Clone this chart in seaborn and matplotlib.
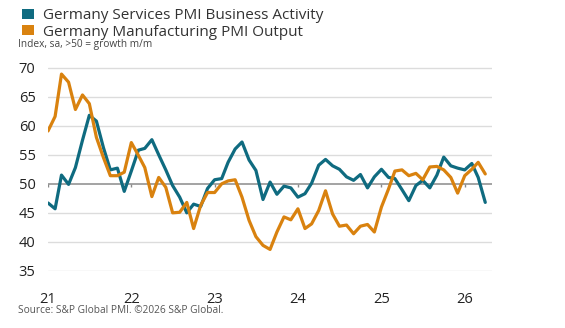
import numpy as np
import pandas as pd
import matplotlib
matplotlib.use("Agg")
import matplotlib.pyplot as plt
import seaborn as sns
from matplotlib.patches import Patch

# ---- data ----
start_month = "2021-01-01"
services = [46.7, 45.7, 51.5, 49.9, 52.8, 57.5, 61.8, 60.8, 56.2, 52.4, 52.7, 48.7,
            52.2, 55.8, 56.1, 57.6, 55.0, 52.4, 49.7, 47.7, 45.0, 46.5, 46.1, 49.2,
            50.7, 50.9, 53.7, 56.0, 57.2, 54.1, 52.3, 47.3, 50.3, 48.2, 49.6, 49.3,
            47.7, 48.3, 50.1, 53.2, 54.2, 53.1, 52.5, 51.2, 50.6, 51.6, 49.3, 51.2,
            52.5, 51.1, 50.9, 49.0, 47.1, 49.7, 50.6, 49.3, 51.5, 54.6, 53.1, 52.7,
            52.4, 53.5, 51.1, 46.8]
manufacturing = [59.1, 61.6, 68.9, 67.5, 62.8, 65.3, 63.8, 58.0, 54.5, 51.4, 51.4, 52.0,
                 57.1, 54.9, 52.8, 47.8, 51.1, 49.4, 45.0, 45.1, 46.8, 42.3, 46.3, 48.5,
                 48.5, 50.0, 50.5, 50.7, 47.7, 43.7, 40.9, 39.4, 38.7, 41.7, 44.3, 43.8,
                 45.7, 42.3, 43.1, 45.4, 48.8, 44.8, 42.7, 42.9, 41.4, 42.7, 43.0, 41.7,
                 46.0, 49.1, 52.2, 52.4, 51.4, 51.8, 50.7, 52.9, 53.0, 52.4, 51.1, 48.4,
                 51.4, 52.5, 53.7, 51.7]
series_names = ["Germany Services PMI Business Activity",
                "Germany Manufacturing PMI Output"]
colors = ["#0f6b80", "#d9820f"]
year_ticks = ["2021-01-01", "2022-01-01", "2023-01-01", "2024-01-01", "2025-01-01", "2026-01-01"]
year_labels = ["21", "22", "23", "24", "25", "26"]
y_ticks = [35, 40, 45, 50, 55, 60, 65, 70]

dates = pd.date_range(start_month, periods=len(services), freq="MS")
df = pd.concat([
    pd.DataFrame({"date": dates, "value": services, "series": series_names[0]}),
    pd.DataFrame({"date": dates, "value": manufacturing, "series": series_names[1]}),
])

sns.set_theme(style="white")
plt.rcParams["font.family"] = ["Open Sans", "DejaVu Sans"]

fig = plt.figure(figsize=(5.65, 3.28), dpi=100)
ax = fig.add_axes([0.085, 0.174, 0.786, 0.625])

# grid
for y in y_ticks:
    if y == 50:
        ax.axhline(y, color="#8a8a8a", lw=1.1, zorder=1)
    else:
        ax.axhline(y, color="#dcdcdc", lw=1.0, zorder=0)

sns.lineplot(data=df, x="date", y="value", hue="series", palette=colors,
             hue_order=series_names, linewidth=2.3, legend=False, ax=ax, zorder=3)

# small year ticks on the 50 line
xt = pd.to_datetime(year_ticks)
ax.vlines(xt, 49.45, 50, color="#8a8a8a", lw=1.0, zorder=1)

ax.set_xlim(pd.Timestamp("2021-01-01"), pd.Timestamp("2026-05-01"))
ax.set_ylim(35, 70.3)
ax.set_yticks(y_ticks)
ax.set_yticklabels([str(v) for v in y_ticks])
ax.set_xticks(xt)
ax.set_xticklabels(year_labels)
ax.tick_params(axis="y", length=0, pad=9, labelsize=10.5, labelcolor="#222222")
ax.tick_params(axis="x", length=0, pad=15, labelsize=10.5, labelcolor="#222222")
ax.set_xlabel("")
ax.set_ylabel("")
for s in ax.spines.values():
    s.set_visible(False)

handles = [Patch(facecolor=c, edgecolor="none") for c in colors]
fig.legend(handles, series_names, loc="upper left", bbox_to_anchor=(0.015, 1.017),
           frameon=False, fontsize=11, handlelength=0.75, handleheight=0.65,
           handletextpad=0.6, labelspacing=0.1, labelcolor="#333333")
fig.text(0.032, 0.865, "Index, sa, >50 = growth m/m", fontsize=7.3, color="#444444",
         va="center", ha="left")
fig.text(0.032, 0.052, "Source: S&P Global PMI. \u00a92026 S&P Global.", fontsize=7.3,
         color="#555555", va="center", ha="left")

fig.savefig("out.png", dpi=100)
